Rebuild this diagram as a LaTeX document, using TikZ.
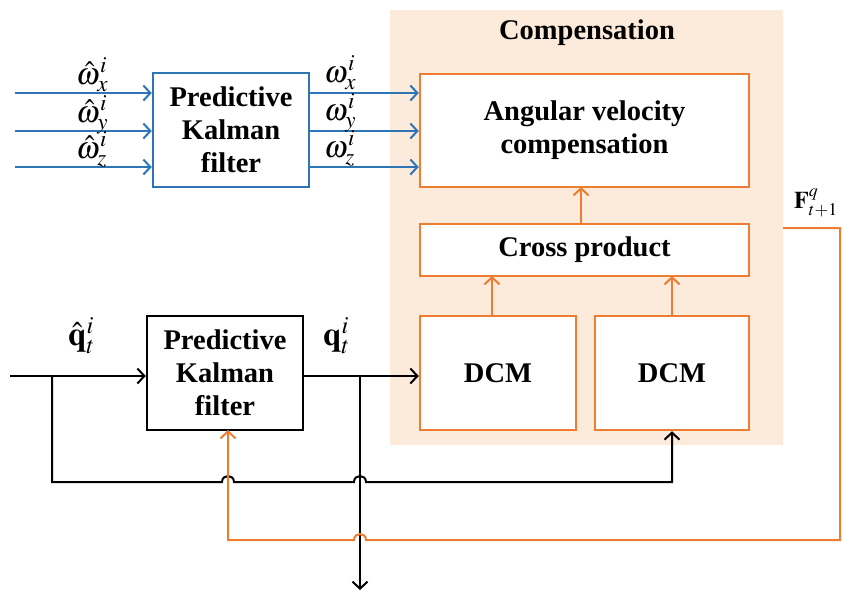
\documentclass[tikz,border=0pt]{standalone}
\usepackage{mathptmx}
\usepackage{fontspec}
\setmainfont{Liberation Serif}
\usetikzlibrary{arrows.meta}
\definecolor{kblue}{RGB}{46,117,182}
\definecolor{korange}{RGB}{237,125,49}
\definecolor{kbg}{RGB}{252,234,218}
\begin{document}
\begin{tikzpicture}[x=1pt,y=-1pt,
  box/.style={draw, line width=2.5pt, fill=white, align=center, inner sep=0pt,
    font=\fontsize{28.5}{33}\selectfont\bfseries},
  conn/.style={line width=2pt},
  tip/.style={-{Straight Barb[length=7pt,width=15pt,line width=2pt]}},
  wlbl/.style={font=\fontsize{31}{33}\selectfont, inner sep=0pt, anchor=base west},
  qlbl/.style={font=\fontsize{33}{36}\selectfont, inner sep=0pt, anchor=base west}]
\useasboundingbox (0,0) rectangle (843,595);
% background
\fill[kbg] (390,10) rectangle (783,445);
\node[font=\fontsize{28.5}{33}\selectfont\bfseries] (title) at (587,33) {Compensation};
% boxes
\node[box, draw=kblue, minimum width=156pt, minimum height=114pt] (kf1) at (231,130) {Predictive\\Kalman\\filter};
\node[box, draw=korange, minimum width=329pt, minimum height=113pt] (avc) at (584.5,130.5) {Angular velocity\\compensation};
\node[box, draw=korange, minimum width=329pt, minimum height=52pt] (cp) at (584.5,250) {Cross product};
\node[box, draw=korange, minimum width=156pt, minimum height=114pt] (dcm1) at (498,373) {DCM};
\node[box, draw=korange, minimum width=154pt, minimum height=114pt] (dcm2) at (672,373) {DCM};
\node[box, draw=black, minimum width=156pt, minimum height=114pt] (kf2) at (225,373) {Predictive\\Kalman\\filter};
% top blue lines
\coordinate (ix) at (15,93);
\coordinate (iy) at (15,131);
\coordinate (iz) at (15,167);
\draw[conn, tip, kblue] (ix) -- (ix -| kf1.west);
\draw[conn, tip, kblue] (iy) -- (iy -| kf1.west);
\draw[conn, tip, kblue] (iz) -- (iz -| kf1.west);
\draw[conn, tip, kblue] (ix -| kf1.east) -- (ix -| avc.west);
\draw[conn, tip, kblue] (iy -| kf1.east) -- (iy -| avc.west);
\draw[conn, tip, kblue] (iz -| kf1.east) -- (iz -| avc.west);
\node[wlbl] (wx) at (76,84) {$\hat{\omega}_x^i$};
\node[wlbl] (wy) at (76,122) {$\hat{\omega}_y^i$};
\node[wlbl] (wz) at (76,158) {$\hat{\omega}_z^i$};
\node[wlbl] (ox) at (324,82) {$\omega_x^i$};
\node[wlbl] (oy) at (324,120) {$\omega_y^i$};
\node[wlbl] (oz) at (324,157) {$\omega_z^i$};
% orange internal arrows
\draw[conn, tip, korange] (581,224) -- (581,187);
\draw[conn, tip, korange] (492,316) -- (492,276);
\draw[conn, tip, korange] (672,316) -- (672,276);
% bottom black lines
\coordinate (qin) at (10,376);
\coordinate (b1) at (52,376);
\coordinate (b2) at (360,376);
\coordinate (qout) at (360,590);
\draw[conn, tip] (qin) -- (qin -| kf2.west);
\draw[conn, tip] (qin -| kf2.east) -- (qin -| dcm1.west);
\draw[conn, tip] (b2) -- (qout);
\draw[conn, tip] (b1) -- (52,482) -- (222,482)
  .. controls (222,474) and (234,474) .. (234,482) -- (354,482)
  .. controls (354,474) and (366,474) .. (366,482) -- (672,482) -- (dcm2.south);
\node[qlbl] (qh) at (68,345) {$\hat{\mathbf{q}}_t^i$};
\node[qlbl] (qt) at (323,345) {$\mathbf{q}_t^i$};
% orange feedback
\coordinate (fo) at (783,228);
\draw[conn, tip, korange] (fo) -- (840,228) -- (840,540) -- (366,540)
  .. controls (366,532) and (354,532) .. (354,540) -- (228,540) -- (228,430);
\node[font=\fontsize{24}{28}\selectfont, inner sep=0pt, anchor=base west] (F) at (794,208) {$\mathbf{F}_{t+1}^q$};
\end{tikzpicture}
\end{document}
